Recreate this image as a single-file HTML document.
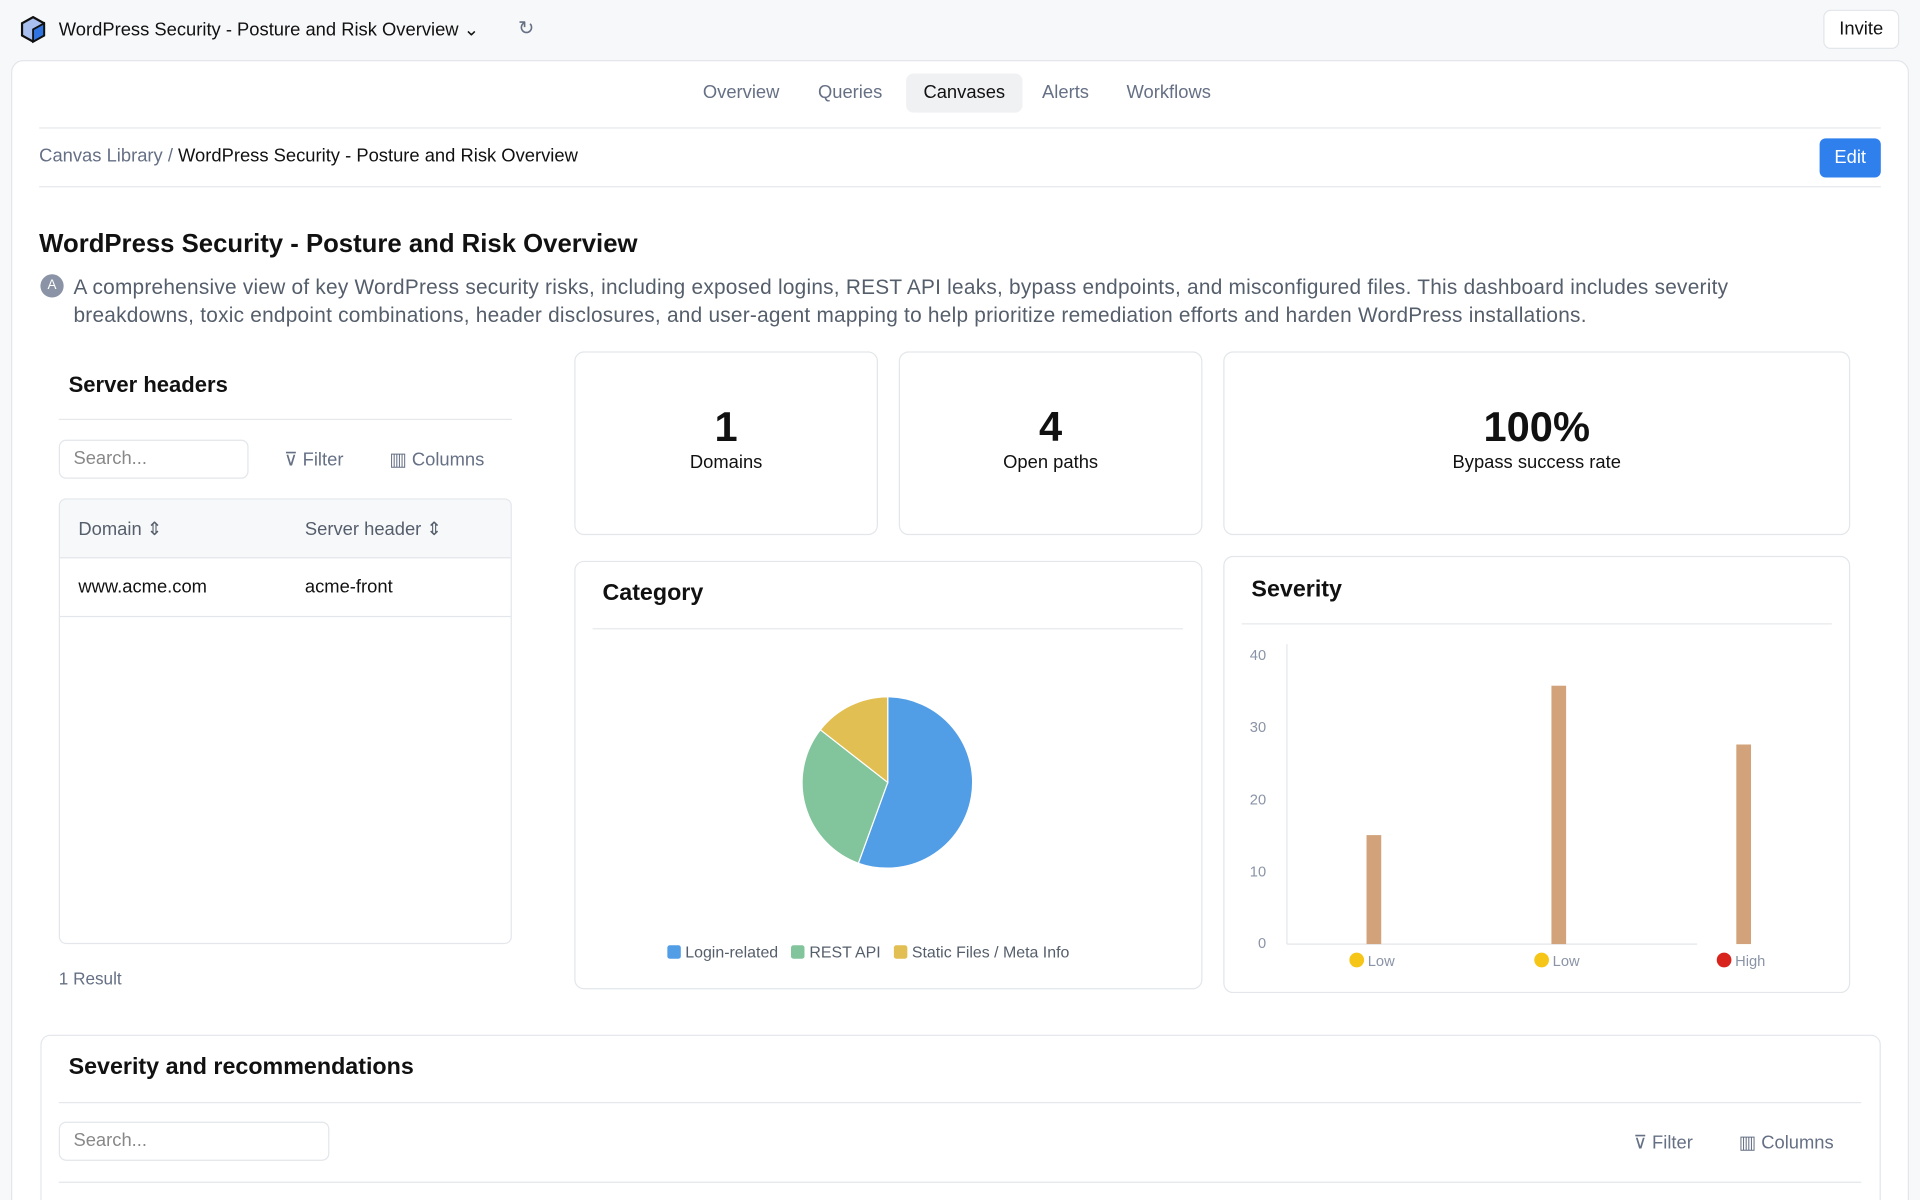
<!DOCTYPE html>
<html><head><meta charset="utf-8"><style>
*{box-sizing:border-box;margin:0;padding:0}
html,body{width:1920px;height:1200px;overflow:hidden;background:#f7f8fa;font-family:"Liberation Sans",sans-serif;color:#111}
#w{width:1568px;height:980px;transform:scale(1.22449);transform-origin:0 0;position:relative}
.a{position:absolute}
.card{position:absolute;background:#fff;border:1px solid #e3e6ea;border-radius:8px}
.muted{color:#667085}
</style></head><body><div id="w">
<svg class="a" style="left:15px;top:12px" width="24" height="24" viewBox="0 0 24 24"><path d="M12 2 L21 7 L21 17 L12 22 L3 17 L3 7Z" fill="#a8bff0" stroke="#111" stroke-width="1.8"/><path d="M12 12 L21 7 L21 17 L12 22Z" fill="#2f74e0" stroke="#111" stroke-width="1.5"/></svg>
<div class="a" style="left:48px;top:15px;font-size:15px">WordPress Security - Posture and Risk Overview ⌄</div>
<div class="a muted" style="left:423px;top:13px;font-size:16px">↻</div>
<div class="a" style="left:1489px;top:8px;width:62px;height:32px;border:1px solid #e3e6ea;border-radius:6px;background:#fff;font-size:15px;text-align:center;line-height:30px">Invite</div>
<div class="card" style="left:9px;top:49px;width:1550px;height:940px;border-radius:10px"></div>
<div class="a muted" style="left:574px;top:67px;font-size:15px">Overview</div>
<div class="a muted" style="left:668px;top:67px;font-size:15px">Queries</div>
<div class="a" style="left:740px;top:60px;width:95px;height:32px;background:#f0f1f3;border-radius:6px;font-size:15px;text-align:center;line-height:32px">Canvases</div>
<div class="a muted" style="left:851px;top:67px;font-size:15px">Alerts</div>
<div class="a muted" style="left:920px;top:67px;font-size:15px">Workflows</div>
<div class="a" style="left:32px;top:104px;width:1504px;border-top:1px solid #e6e8eb"></div>
<div class="a" style="left:32px;top:119px;font-size:15px"><span class="muted">Canvas Library</span> <span class="muted">/</span> WordPress Security - Posture and Risk Overview</div>
<div class="a" style="left:1486px;top:113px;width:50px;height:32px;background:#2f80ed;border-radius:5px;color:#fff;font-size:15px;text-align:center;line-height:32px">Edit</div>
<div class="a" style="left:32px;top:152px;width:1504px;border-top:1px solid #e6e8eb"></div>
<div class="a" style="left:32px;top:188px;font-size:21px;font-weight:bold">WordPress Security - Posture and Risk Overview</div>
<div class="a" style="left:33px;top:224px;width:19px;height:19px;border-radius:50%;background:#8a94a6;color:#fff;font-size:11px;text-align:center;line-height:19px">A</div>
<div class="a" style="left:60px;top:223px;width:1385px;font-size:17px;line-height:23px;color:#555e6b;letter-spacing:0.2px">A comprehensive view of key WordPress security risks, including exposed logins, REST API leaks, bypass endpoints, and misconfigured files. This dashboard includes severity breakdowns, toxic endpoint combinations, header disclosures, and user-agent mapping to help prioritize remediation efforts and harden WordPress installations.</div>

<div class="a" style="left:56px;top:304px;font-size:18px;font-weight:bold">Server headers</div>
<div class="a" style="left:48px;top:342px;width:370px;border-top:1px solid #e6e8eb"></div>
<div class="a" style="left:48px;top:359px;width:155px;height:32px;border:1px solid #e3e6ea;border-radius:6px;background:#fff;font-size:15px;line-height:30px;padding-left:11px;color:#888">Search...</div>
<div class="a muted" style="left:232px;top:366px;font-size:15px">⊽ Filter</div>
<div class="a muted" style="left:318px;top:366px;font-size:15px">▥ Columns</div>
<div class="card" style="left:48px;top:407px;width:370px;height:364px;border-radius:6px;overflow:hidden">
<div style="height:48px;background:#f7f8fa;border-bottom:1px solid #e3e6ea;font-size:15px;color:#555e6b;position:relative"><span class="a" style="left:15px;top:15px">Domain ⇕</span><span class="a" style="left:200px;top:15px">Server header ⇕</span></div>
<div style="height:48px;border-bottom:1px solid #e3e6ea;font-size:15px;position:relative"><span class="a" style="left:15px;top:15px">www.acme.com</span><span class="a" style="left:200px;top:15px">acme-front</span></div></div>
<div class="a muted" style="left:48px;top:791px;font-size:14px">1 Result</div>

<div class="card" style="left:469px;top:287px;width:248px;height:150px;text-align:center"><div style="font-size:34px;font-weight:bold;margin-top:42px">1</div><div style="font-size:15px">Domains</div></div>
<div class="card" style="left:734px;top:287px;width:248px;height:150px;text-align:center"><div style="font-size:34px;font-weight:bold;margin-top:42px">4</div><div style="font-size:15px">Open paths</div></div>
<div class="card" style="left:999px;top:287px;width:512px;height:150px;text-align:center"><div style="font-size:34px;font-weight:bold;margin-top:42px">100%</div><div style="font-size:15px">Bypass success rate</div></div>

<div class="card" style="left:469px;top:458px;width:513px;height:350px"></div>
<div class="a" style="left:492px;top:474px;font-size:19px;font-weight:bold">Category</div>
<div class="a" style="left:484px;top:513px;width:482px;border-top:1px solid #e6e8eb"></div>
<svg class="a" style="left:650px;top:564px" width="150" height="150" viewBox="-75 -75 150 150">
<path d="M0 0 L0 -70 A70 70 0 1 1 -24 66 Z" fill="#519ee6" stroke="#fff"/>
<path d="M0 0 L-24 66 A70 70 0 0 1 -55 -43 Z" fill="#82c49b" stroke="#fff"/>
<path d="M0 0 L-55 -43 A70 70 0 0 1 0 -70 Z" fill="#e2bf52" stroke="#fff"/></svg>
<div class="a" style="left:545px;top:770px;font-size:13px;color:#555e6b;white-space:nowrap"><span style="display:inline-block;width:11px;height:11px;background:#519ee6;border-radius:2px;vertical-align:-1px"></span> Login-related &nbsp; <span style="display:inline-block;width:11px;height:11px;background:#82c49b;border-radius:2px;vertical-align:-1px"></span> REST API &nbsp; <span style="display:inline-block;width:11px;height:11px;background:#e2bf52;border-radius:2px;vertical-align:-1px"></span> Static Files / Meta Info</div>

<div class="card" style="left:999px;top:454px;width:512px;height:357px"></div>
<div class="a" style="left:1022px;top:471px;font-size:19px;font-weight:bold">Severity</div>
<div class="a" style="left:1014px;top:509px;width:482px;border-top:1px solid #e6e8eb"></div>
<svg class="a" style="left:1000px;top:520px" width="510" height="285">
<g font-size="12" fill="#8a94a6" font-family="Liberation Sans" text-anchor="end">
<text x="34" y="19">40</text><text x="34" y="78">30</text><text x="34" y="137">20</text><text x="34" y="196">10</text><text x="34" y="254">0</text></g>
<line x1="51" y1="6" x2="51" y2="251" stroke="#e3e6ea"/><line x1="51" y1="251" x2="386" y2="251" stroke="#e3e6ea"/>
<rect x="116" y="162" width="12" height="89" fill="#d2a27a"/>
<rect x="267" y="40" width="12" height="211" fill="#d2a27a"/>
<rect x="418" y="88" width="12" height="163" fill="#d2a27a"/>
<g font-size="12" fill="#8a94a6" font-family="Liberation Sans">
<circle cx="108" cy="264" r="6" fill="#f5c518"/><text x="117" y="269">Low</text>
<circle cx="259" cy="264" r="6" fill="#f5c518"/><text x="268" y="269">Low</text>
<circle cx="408" cy="264" r="6" fill="#d9231d"/><text x="417" y="269">High</text></g></svg>

<div class="card" style="left:33px;top:845px;width:1503px;height:160px"></div>
<div class="a" style="left:56px;top:861px;font-size:19px;font-weight:bold">Severity and recommendations</div>
<div class="a" style="left:48px;top:900px;width:1472px;border-top:1px solid #e6e8eb"></div>
<div class="a" style="left:48px;top:916px;width:221px;height:32px;border:1px solid #e3e6ea;border-radius:6px;background:#fff;font-size:15px;line-height:30px;padding-left:11px;color:#888">Search...</div>
<div class="a muted" style="left:1334px;top:924px;font-size:15px">⊽ Filter</div>
<div class="a muted" style="left:1420px;top:924px;font-size:15px">▥ Columns</div>
<div class="a" style="left:48px;top:965px;width:1472px;border-top:1px solid #e3e6ea"></div>
</div></body></html>
